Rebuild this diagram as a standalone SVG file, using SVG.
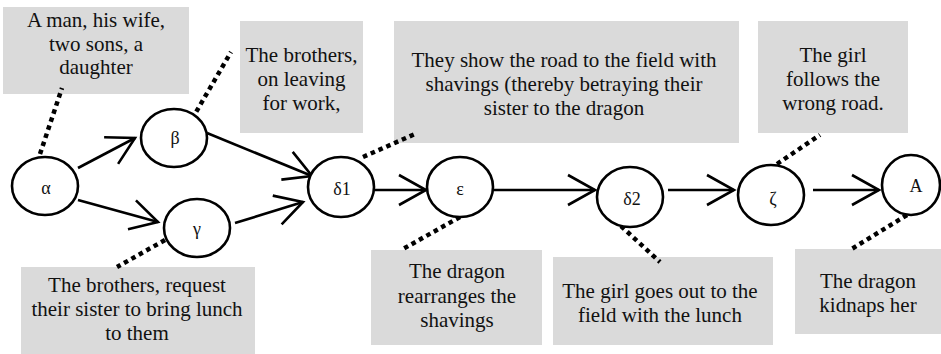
<svg xmlns="http://www.w3.org/2000/svg" width="941" height="354" viewBox="0 0 941 354">
<defs>
<marker id="arr" markerUnits="userSpaceOnUse" markerWidth="34" markerHeight="36" viewBox="0 0 34 36" refX="30" refY="17" orient="auto">
<path d="M3,2 L30,17 L3,32" fill="none" stroke="#000" stroke-width="2.6"/>
</marker>
</defs>
<style>
.box{fill:#dadada}
.bt{font-size:21px;fill:#111;text-anchor:middle}
.nt{font-size:18px;fill:#111;text-anchor:middle}
.node{fill:#fff;stroke:#000;stroke-width:2.6}
.edge{fill:none;stroke:#000;stroke-width:2.6;marker-end:url(#arr)}
.dot{fill:none;stroke:#000;stroke-width:4.5;stroke-dasharray:4.5 4}
</style>
<g font-family="Liberation Serif, DejaVu Serif, serif">
<g id="notes">
<g id="note-alpha"><rect class="box" x="3" y="7" width="186" height="87"/>
<text class="bt" x="96" y="27">A man, his wife,</text><text class="bt" x="96" y="51">two sons, a</text><text class="bt" x="96" y="74">daughter</text></g>
<g id="note-beta"><rect class="box" x="240" y="21" width="123" height="112"/>
<text class="bt" x="301.5" y="62">The brothers,</text><text class="bt" x="301.5" y="86">on leaving</text><text class="bt" x="301.5" y="110">for work,</text></g>
<g id="note-delta1"><rect class="box" x="394" y="21" width="345" height="122"/>
<text class="bt" x="564" y="67">They show the road to the field with</text><text class="bt" x="564" y="91">shavings (thereby betraying their</text><text class="bt" x="564" y="115">sister to the dragon</text></g>
<g id="note-zeta"><rect class="box" x="758" y="21" width="150" height="112"/>
<text class="bt" x="833" y="62">The girl</text><text class="bt" x="833" y="86">follows the</text><text class="bt" x="833" y="110">wrong road.</text></g>
<g id="note-gamma"><rect class="box" x="21" y="267" width="234" height="87"/>
<text class="bt" x="137" y="292">The brothers, request</text><text class="bt" x="137" y="316">their sister to bring lunch</text><text class="bt" x="137" y="340">to them</text></g>
<g id="note-epsilon"><rect class="box" x="371" y="250" width="171" height="95"/>
<text class="bt" x="457" y="278">The dragon</text><text class="bt" x="457" y="303">rearranges the</text><text class="bt" x="457" y="327">shavings</text></g>
<g id="note-delta2"><rect class="box" x="553" y="257" width="220" height="88"/>
<text class="bt" x="660" y="298">The girl goes out to the</text><text class="bt" x="660" y="322">field with the lunch</text></g>
<g id="note-A"><rect class="box" x="795" y="249" width="146" height="85"/>
<text class="bt" x="868" y="288">The dragon</text><text class="bt" x="868" y="312">kidnaps her</text></g>
</g>
<g id="connectors">
<line class="dot" x1="40" y1="154" x2="62" y2="88"/>
<line class="dot" x1="192" y1="119" x2="231" y2="52"/>
<line class="dot" x1="363" y1="157" x2="415" y2="134"/>
<line class="dot" x1="165" y1="240" x2="117" y2="267"/>
<line class="dot" x1="460" y1="217" x2="403" y2="249"/>
<line class="dot" x1="621" y1="226" x2="660" y2="262"/>
<line class="dot" x1="777" y1="164" x2="820" y2="135"/>
<line class="dot" x1="907" y1="215" x2="850" y2="250"/>
<line class="edge" x1="78" y1="168" x2="135" y2="138"/>
<line class="edge" x1="78" y1="200" x2="158" y2="222"/>
<line class="edge" x1="207" y1="133" x2="312" y2="176"/>
<line class="edge" x1="235" y1="223" x2="303" y2="202"/>
<line class="edge" x1="374" y1="190" x2="426" y2="190"/>
<line class="edge" x1="493" y1="190" x2="595" y2="190"/>
<line class="edge" x1="668" y1="190" x2="734" y2="190"/>
<line class="edge" x1="813" y1="190" x2="879" y2="190"/>
</g>
<g id="alpha"><ellipse class="node" cx="45" cy="186" rx="33" ry="29"/><text class="nt" x="46" y="194">α</text></g>
<g id="beta"><ellipse class="node" cx="174" cy="138" rx="33" ry="29"/><text class="nt" x="175" y="144">β</text></g>
<g id="gamma"><ellipse class="node" cx="197" cy="228" rx="33" ry="29"/><text class="nt" x="197" y="235">γ</text></g>
<g id="delta1"><ellipse class="node" cx="341" cy="187" rx="33" ry="30"/><text class="nt" x="342" y="195">δ1</text></g>
<g id="epsilon"><ellipse class="node" cx="460" cy="187" rx="33" ry="30"/><text class="nt" x="460" y="195">ε</text></g>
<g id="delta2"><ellipse class="node" cx="630" cy="197" rx="33" ry="30"/><text class="nt" x="632" y="205">δ2</text></g>
<g id="zeta"><ellipse class="node" cx="771" cy="195" rx="33" ry="30"/><text class="nt" x="773" y="205">ζ</text></g>
<g id="A"><ellipse class="node" cx="911" cy="185" rx="29" ry="30"/><text class="nt" x="916" y="192">A</text></g>
</g>
</svg>
